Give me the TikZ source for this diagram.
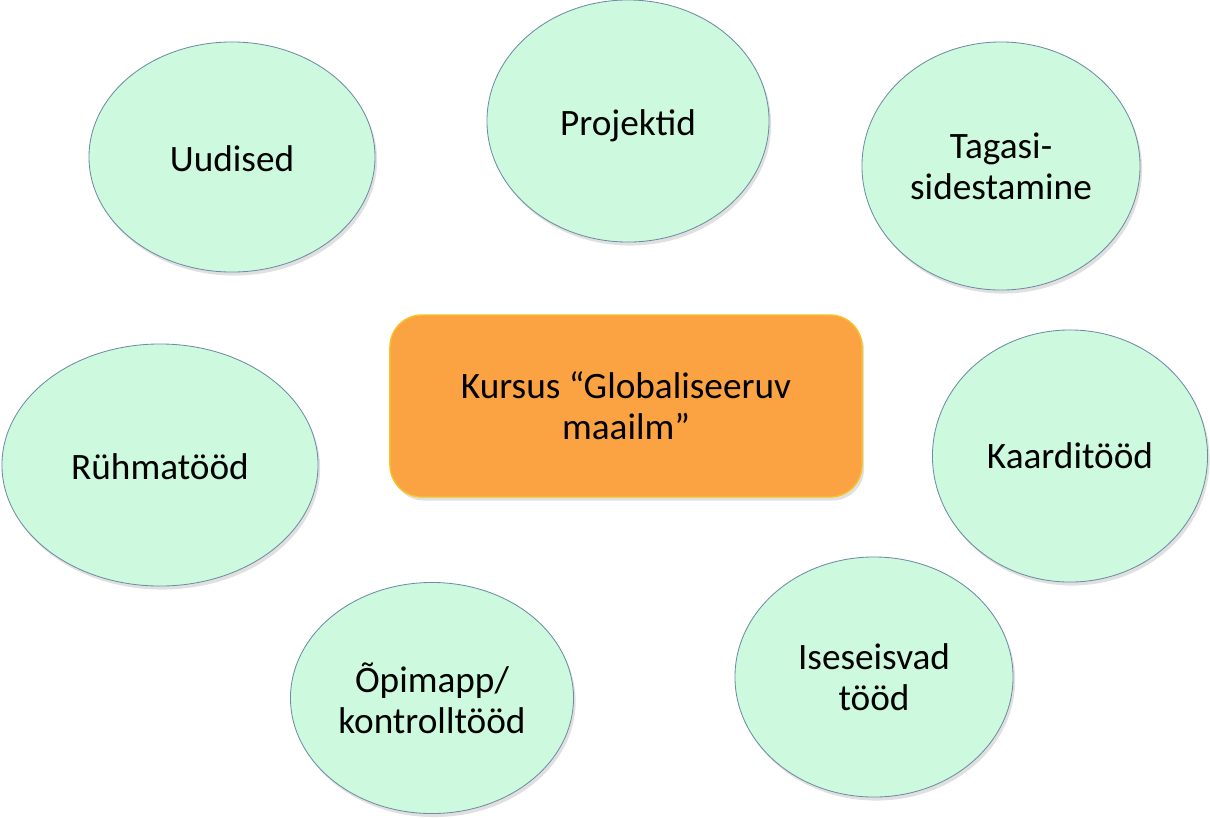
\documentclass[tikz,border=0pt]{standalone}
\usepackage{fontspec}
\setmainfont{Carlito}
\usetikzlibrary{shapes.geometric,shadows}

\definecolor{mintfill}{RGB}{205,250,222}
\definecolor{mintline}{RGB}{110,140,165}
\definecolor{coursefill}{RGB}{251,163,66}
\definecolor{courseline}{RGB}{246,196,40}

\tikzset{
  topic/.style={ellipse, draw=mintline, line width=0.6pt, fill=mintfill, inner sep=0, outer sep=0, align=center,
    font=\fontsize{26.5}{29}\selectfont,
    drop shadow={shadow xshift=1.5pt, shadow yshift=-2.5pt, opacity=0.2, fill=black!60}},
  lowtext/.style={text height=0.92cm, text depth=0.18cm},
  course/.style={rectangle, rounded corners=0.8cm, draw=courseline, line width=1pt, fill=coursefill, inner sep=0, outer sep=0, align=center,
    font=\fontsize{26.5}{29}\selectfont,
    drop shadow={shadow xshift=1.5pt, shadow yshift=-2.5pt, opacity=0.2, fill=black!60}}
}

\begin{document}
\begin{tikzpicture}[x=0.025cm, y=-0.025cm]
      \useasboundingbox (0,0) rectangle (1210,817);

      \node [course, minimum width=11.8cm, minimum height=4.55cm] (kursus) at (626,406) {Kursus “Globaliseeruv\\ maailm”};

      \node [topic, lowtext, minimum width=7.15cm, minimum height=5.75cm] (uudised) at (232,157) {Uudised};

      \node [topic, lowtext, minimum width=7.05cm, minimum height=6.05cm] (projektid) at (628,121) {Projektid};

      \node [topic, minimum width=6.95cm, minimum height=6.2cm] (tagasi) at (1001,166) {Tagasi-\\ sidestamine};

      \node [topic, lowtext, minimum width=7.9cm, minimum height=6.05cm] (ryhm) at (160,465) {Rühmatööd};

      \node [topic, minimum width=6.875cm, minimum height=6.3cm] (kaart) at (1070,456) {Kaarditööd};

      \node [topic, minimum width=7.075cm, minimum height=5.775cm] (opimapp) at (432,698) {Õpimapp/\\ kontrolltööd};

      \node [topic, minimum width=6.95cm, minimum height=6cm] (iseseisev) at (874,677) {Iseseisvad\\ tööd};
    \end{tikzpicture}
\end{document}
